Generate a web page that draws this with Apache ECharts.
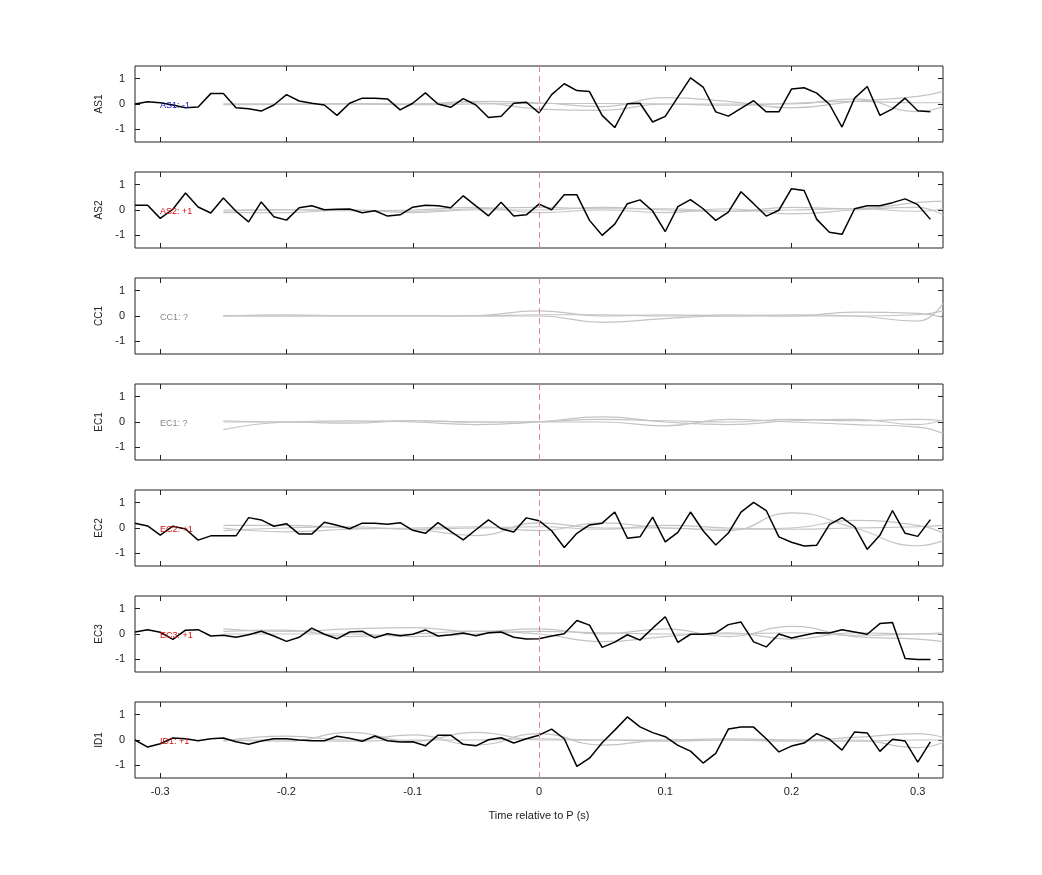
<!DOCTYPE html>
<html>
<head>
<meta charset="utf-8">
<script src="https://cdn.jsdelivr.net/npm/echarts@6/dist/echarts.min.js"></script>
<style>html,body{margin:0;background:#fff}#c{width:1042px;height:875px}</style>
</head>
<body>
<div id="c"></div>
<script>
const stations = ['AS1', 'AS2', 'CC1', 'EC1', 'EC2', 'EC3', 'ID1'];
const polarity = ['-1', '+1', '?', '?', '+1', '+1', '+1'];
const labelColors = ['#1010c0', '#d01010', '#888888', '#888888', '#d01010', '#d01010', '#d01010'];
const xTicks = [-0.3, -0.2, -0.1, 0, 0.1, 0.2, 0.3];
const yTicks = [-1, 0, 1];

// black traces sampled every 0.01 s from -0.32
const traceAS1 = [0, 0.09, 0.05, -0.04, -0.15, -0.12, 0.41, 0.41, -0.15, -0.19, -0.28, -0.04, 0.37, 0.12, 0.03, -0.04, -0.45, 0.03, 0.23, 0.23, 0.2, -0.23, 0.03, 0.44, 0, -0.13, 0.21, -0.04, -0.53, -0.48, 0.03, 0.07, -0.35, 0.37, 0.8, 0.53, 0.49, -0.45, -0.93, 0.01, 0.03, -0.71, -0.49, 0.27, 1.03, 0.67, -0.31, -0.48, -0.17, 0.13, -0.31, -0.31, 0.59, 0.64, 0.43, -0.01, -0.91, 0.23, 0.69, -0.45, -0.19, 0.23, -0.27, -0.31];
const traceAS2 = [0.19, 0.19, -0.33, 0.03, 0.67, 0.12, -0.12, 0.47, -0.05, -0.47, 0.32, -0.27, -0.4, 0.09, 0.17, 0.01, 0.03, 0.04, -0.11, -0.03, -0.24, -0.19, 0.11, 0.19, 0.17, 0.09, 0.56, 0.16, -0.23, 0.31, -0.24, -0.19, 0.23, 0.01, 0.6, 0.6, -0.41, -1.0, -0.56, 0.25, 0.4, -0.04, -0.85, 0.13, 0.41, 0.05, -0.41, -0.08, 0.72, 0.25, -0.24, -0.01, 0.84, 0.77, -0.37, -0.88, -0.96, 0.05, 0.17, 0.17, 0.29, 0.44, 0.21, -0.37];
const traceEC2 = [0.19, 0.08, -0.28, 0.07, -0.04, -0.48, -0.31, -0.31, -0.31, 0.41, 0.32, 0.07, 0.17, -0.24, -0.24, 0.23, 0.11, -0.03, 0.19, 0.19, 0.15, 0.21, -0.09, -0.21, 0.21, -0.13, -0.47, -0.07, 0.32, -0.03, -0.16, 0.4, 0.29, -0.11, -0.77, -0.21, 0.12, 0.19, 0.63, -0.4, -0.35, 0.43, -0.55, -0.17, 0.63, -0.11, -0.67, -0.2, 0.63, 1.01, 0.69, -0.35, -0.56, -0.71, -0.68, 0.13, 0.41, 0.05, -0.84, -0.29, 0.69, -0.21, -0.33, 0.33];
const traceEC3 = [0.08, 0.17, 0.07, -0.21, 0.15, 0.17, -0.08, -0.05, -0.13, -0.03, 0.11, -0.08, -0.29, -0.13, 0.23, -0.01, -0.19, 0.08, 0.11, -0.15, 0.01, -0.07, -0.01, 0.16, -0.08, -0.03, 0.04, -0.07, 0.05, 0.08, -0.13, -0.2, -0.19, -0.08, 0.01, 0.53, 0.35, -0.53, -0.32, -0.03, -0.24, 0.23, 0.68, -0.33, -0.01, -0.01, 0.04, 0.37, 0.47, -0.31, -0.51, 0, -0.16, -0.05, 0.05, 0.04, 0.17, 0.08, -0.01, 0.41, 0.45, -0.97, -1.01, -1.01];
const traceID1 = [0, -0.28, -0.15, 0.08, 0.05, -0.03, 0.05, 0.08, -0.07, -0.17, -0.04, 0.05, 0.05, 0, -0.03, -0.03, 0.15, 0.07, -0.05, 0.16, -0.03, -0.08, -0.07, -0.23, 0.19, 0.19, -0.17, -0.23, 0.01, 0.09, -0.12, 0.05, 0.19, 0.43, 0.05, -1.04, -0.72, -0.11, 0.39, 0.91, 0.52, 0.29, 0.13, -0.21, -0.44, -0.91, -0.53, 0.43, 0.51, 0.51, 0.05, -0.47, -0.24, -0.12, 0.25, 0.03, -0.4, 0.32, 0.28, -0.45, 0.03, -0.04, -0.87, -0.07];
const traces = [traceAS1, traceAS2, null, null, traceEC2, traceEC3, traceID1];

// grey comparison traces, sampled at greyX
const greyX = [-0.25, -0.2, -0.15, -0.1, -0.05, 0, 0.05, 0.1, 0.15, 0.2, 0.25, 0.3, 0.32];
const greyAS1 = [
  [0, 0, 0, 0, 0.1, 0.05, -0.1, 0.25, 0.1, -0.15, 0.1, 0.3, 0.5],
  [0, 0, 0.02, 0, 0.05, -0.2, -0.25, 0, 0, 0, 0.2, -0.3, -0.1],
  [-0.03, -0.02, 0, -0.03, 0, 0.02, 0.02, 0, -0.05, 0.03, 0.1, 0.05, 0.05]
];
const greyAS2 = [
  [-0.1, -0.1, 0, -0.05, 0.05, 0.1, 0.05, 0.05, -0.05, 0.1, 0.05, 0.3, 0.35],
  [0, 0.02, -0.03, 0, 0.1, -0.1, 0, -0.1, 0.05, -0.15, 0, 0.1, -0.2],
  [-0.05, 0, 0, -0.1, 0, 0, 0.1, 0, -0.05, 0, 0.05, -0.05, 0.05]
];
const greyCC1 = [
  [0, 0.05, 0, 0, 0.02, 0.2, 0, 0.05, 0, 0.05, 0, -0.2, 0.5],
  [0, 0, 0.02, 0, 0, 0, -0.25, -0.1, 0, 0, 0.15, 0.1, -0.05],
  [0.02, 0, 0, 0.02, 0, 0.05, 0.05, 0, 0.05, 0, 0, 0.05, 0.2]
];
const greyEC1 = [
  [-0.3, 0, 0.05, 0, -0.1, 0, 0.2, 0, -0.1, 0.05, 0.1, -0.1, 0.1],
  [0, 0, -0.05, 0.05, 0, 0, 0, -0.15, 0.1, 0, -0.1, -0.2, -0.45],
  [0.05, 0, 0, 0.05, 0, 0.02, 0.1, 0.05, 0, 0.1, 0.05, 0.1, 0.05]
];
const greyEC2 = [
  [0.1, 0.1, 0, -0.05, -0.3, 0.2, 0, 0, -0.1, 0.6, 0, -0.7, -0.5],
  [0, -0.15, -0.05, 0, 0.05, -0.1, 0.2, 0, -0.05, 0, 0.3, 0.1, -0.2],
  [-0.1, 0, 0.05, -0.05, 0, 0.05, -0.05, 0.1, 0, -0.05, 0, 0.05, 0.1]
];
const greyEC3 = [
  [0.2, 0.1, 0.2, 0.25, 0.1, 0.2, 0, 0.2, -0.1, 0.3, -0.1, -0.2, -0.3],
  [0.1, 0.15, -0.1, 0, 0.1, 0, -0.3, -0.1, 0.05, -0.2, 0.05, 0, 0],
  [0, 0, 0, -0.1, 0, 0.1, 0.05, 0, 0, 0.05, -0.05, 0, 0.05]
];
const greyID1 = [
  [0, -0.05, 0.3, -0.05, 0.3, 0, 0, -0.05, 0, -0.05, 0, -0.3, -0.1],
  [-0.05, 0.15, 0, 0.2, -0.2, 0.25, -0.2, 0, 0, 0, 0.1, 0.25, 0.1],
  [0, 0, -0.05, 0, 0, 0.05, 0, 0, 0.05, 0, -0.05, 0, 0]
];
const greys = [greyAS1, greyAS2, greyCC1, greyEC1, greyEC2, greyEC3, greyID1];

const FONT = 'Liberation Sans';
const tops = [66, 172, 278, 384, 490, 596, 702];
const H = 76;

const grid = [], xAxis = [], yAxis = [], series = [], title = [];
stations.forEach((name, i) => {
  grid.push({ left: 135, right: 99, top: tops[i], height: H, show: true, borderColor: '#222', borderWidth: 1 });
  const last = i === stations.length - 1;
  ['bottom', 'top'].forEach(pos => {
    xAxis.push({
      type: 'value', gridIndex: i, min: -0.32, max: 0.32, position: pos,
      axisLine: { show: false, onZero: false }, splitLine: { show: false },
      axisTick: { inside: true, length: 5, lineStyle: { color: '#222' }, customValues: xTicks },
      axisLabel: { show: last && pos === 'bottom', customValues: xTicks, color: '#222', fontFamily: FONT, fontSize: 11, margin: 8,
        formatter: v => (Math.abs(v) < 1e-9 ? '0' : String(Math.round(v * 10) / 10)) },
      name: last && pos === 'bottom' ? 'Time relative to P (s)' : '',
      nameLocation: 'middle', nameGap: 32, nameTextStyle: { color: '#222', fontFamily: FONT, fontSize: 11 }
    });
  });
  ['left', 'right'].forEach(pos => {
    yAxis.push({
      type: 'value', gridIndex: i, min: -1.5, max: 1.5, position: pos,
      axisLine: { show: false, onZero: false }, splitLine: { show: false },
      axisTick: { inside: true, length: 5, lineStyle: { color: '#222' }, customValues: yTicks },
      axisLabel: { show: pos === 'left', customValues: yTicks, color: '#222', fontFamily: FONT, fontSize: 11, margin: 10 },
      name: pos === 'left' ? name : '', nameLocation: 'middle', nameGap: 25, nameRotate: 90,
      nameTextStyle: { color: '#222', fontFamily: FONT, fontSize: 10 }
    });
  });
  greys[i].forEach(g => {
    series.push({
      type: 'line', xAxisIndex: 2 * i, yAxisIndex: 2 * i, data: greyX.map((x, k) => [x, g[k]]),
      smooth: 0.5, showSymbol: false, silent: true, lineStyle: { color: '#c4c4c4', width: 1.2 }
    });
  });
  series.push({
    type: 'line', xAxisIndex: 2 * i, yAxisIndex: 2 * i, silent: true, showSymbol: false, z: 3,
    data: traces[i] ? traces[i].map((v, k) => [Math.round((-0.32 + 0.01 * k) * 100) / 100, v]) : [],
    lineStyle: { color: '#000', width: 1.5 },
    markLine: { silent: true, symbol: 'none', label: { show: false },
      lineStyle: { color: '#d88', type: [6, 4], width: 1 }, data: [{ xAxis: 0 }] }
  });
  title.push({ text: name + ': ' + polarity[i], left: 155, top: tops[i] + H / 2 - 8,
    textStyle: { color: labelColors[i], fontFamily: FONT, fontSize: 9, fontWeight: 'normal' } });
});

const chart = echarts.init(document.getElementById('c'));
chart.setOption({ animation: false, backgroundColor: '#fff', title, grid, xAxis, yAxis, series });
</script>
</body>
</html>
